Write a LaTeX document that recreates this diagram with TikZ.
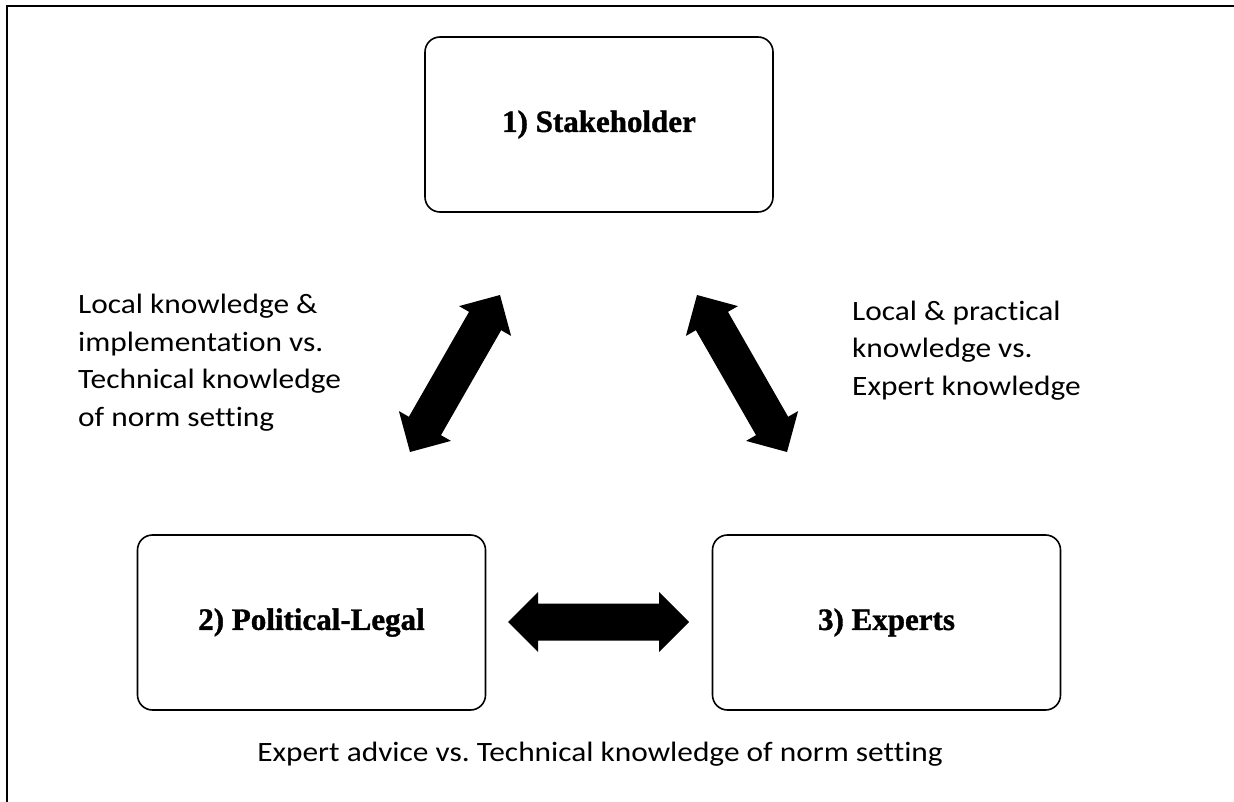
\documentclass[tikz,border=0pt]{standalone}
\usepackage{fontspec}
\usetikzlibrary{calc}
\newfontfamily\labfont[FakeStretch=1.12,Ligatures=NoCommon]{Carlito}
\newfontfamily\boxfont[FakeBold=1.2]{Liberation Serif}
\frenchspacing
\newcommand\dblarrow[2]{%
  \fill[arrowfill] (#1)
    -- ($(#1)!30pt!(#2)!30pt!90:(#2)$)
    -- ($(#1)!30pt!(#2)!18.5pt!90:(#2)$)
    -- ($(#2)!30pt!(#1)!18.5pt!-90:(#1)$)
    -- ($(#2)!30pt!(#1)!30pt!-90:(#1)$)
    -- (#2)
    -- ($(#2)!30pt!(#1)!30pt!90:(#1)$)
    -- ($(#2)!30pt!(#1)!18.5pt!90:(#1)$)
    -- ($(#1)!30pt!(#2)!18.5pt!-90:(#2)$)
    -- ($(#1)!30pt!(#2)!30pt!-90:(#2)$)
    -- cycle;}
\begin{document}
\begin{tikzpicture}[x=1pt,y=-1pt,
  box/.style={draw, rounded corners=15pt, line width=1.6pt,
    minimum width=348pt, minimum height=175pt, inner sep=0pt,
    font=\boxfont\bfseries\fontsize{31}{31}\selectfont},
  lab/.style={inner sep=0pt, align=left,
    font=\labfont\fontsize{28}{37.5}\selectfont},
  arrowfill/.style={fill=black},
  frameline/.style={line width=2.3pt}]
\useasboundingbox (0,0) rectangle (1234,802);
\fill[white] (0,0) rectangle (1234,802);
% frame
\coordinate (fbl) at (7,803);
\coordinate (ftl) at (7,6);
\coordinate (ftr) at (1234,6);
\draw[frameline] (fbl) -- (ftl) -- (ftr);
% boxes
\node[box] (stake) at (599,124.5) {1) Stakeholder};
\node[box] (pol) at (311.5,622.5) {2) Political-Legal};
\node[box] (exp) at (886.5,622.5) {3) Experts};
% arrows
\coordinate (a1) at (500,295);
\coordinate (a2) at (410,452);
\coordinate (b1) at (697,295);
\coordinate (b2) at (787,452);
\coordinate (c1) at (508,622);
\coordinate (c2) at (689,622);
\dblarrow{a1}{a2}
\dblarrow{b1}{b2}
\dblarrow{c1}{c2}
% labels (base anchor = baseline of last line)
\node[lab, anchor=base west] (lk) at (78,426) {Local knowledge \&\\implementation vs.\\Technical knowledge\\of norm setting};
\node[lab, anchor=base west] (lp) at (852,395) {Local \& practical\\knowledge vs.\\Expert knowledge};
\node[lab, anchor=base] (ea) at (600,761) {Expert advice vs. Technical knowledge of norm setting};
\end{tikzpicture}
\end{document}
